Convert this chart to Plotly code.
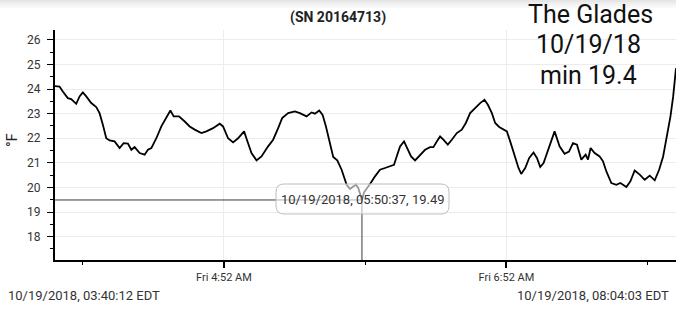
import plotly.graph_objects as go

# ---- data ----
day = "2018-10-19"
times = [
    "03:40:12", "03:42:07", "03:43:31", "03:45:39", "03:47:05", "03:49:13", "03:50:38", "03:52:02",
    "03:53:29", "03:55:36", "03:57:44", "03:59:08", "04:00:32", "04:01:59", "04:03:23", "04:05:31",
    "04:07:39", "04:09:21", "04:11:11", "04:12:38", "04:14:02", "04:16:10", "04:18:17", "04:19:41",
    "04:21:08", "04:23:16", "04:25:23", "04:27:31", "04:29:13", "04:30:38", "04:32:53", "04:35:19",
    "04:37:26", "04:39:34", "04:42:25", "04:44:32", "04:47:21", "04:50:12", "04:51:36", "04:53:44",
    "04:55:52", "04:57:59", "04:59:26", "05:00:32", "05:01:59", "05:03:41", "05:05:49", "05:07:56",
    "05:10:45", "05:12:53", "05:15:01", "05:16:43", "05:19:16", "05:22:07", "05:24:14", "05:27:05",
    "05:29:13", "05:30:38", "05:32:28", "05:33:54", "05:35:19", "05:37:01", "05:38:25", "05:40:07",
    "05:41:59", "05:44:07", "05:45:31", "05:46:55", "05:48:04", "05:49:03", "05:50:37", "05:51:30",
    "05:52:37", "05:54:20", "05:56:10", "05:58:17", "06:00:25", "06:02:32", "06:04:14", "06:05:23",
    "06:06:48", "06:08:30", "06:09:54", "06:11:29", "06:13:11", "06:15:01", "06:17:26", "06:19:34",
    "06:20:58", "06:22:25", "06:23:49", "06:25:13", "06:27:05", "06:28:48", "06:30:55", "06:33:03",
    "06:34:45", "06:36:35", "06:38:43", "06:40:50", "06:42:40", "06:44:07", "06:45:49", "06:47:13",
    "06:48:56", "06:50:46", "06:52:12", "06:54:02", "06:55:44", "06:57:08", "06:58:17", "06:59:59",
    "07:01:41", "07:03:31", "07:04:58", "07:06:22", "07:07:47", "07:09:39", "07:11:21", "07:12:28",
    "07:14:35", "07:16:43", "07:18:35", "07:20:17", "07:21:59", "07:23:49", "07:25:39", "07:26:40",
    "07:27:47", "07:29:29", "07:31:37", "07:33:03", "07:34:28", "07:36:35", "07:38:43", "07:40:25",
    "07:42:58", "07:44:40", "07:46:30", "07:48:38", "07:50:46", "07:52:53", "07:55:01", "07:56:53",
    "07:58:35", "08:00:17", "08:01:42", "08:02:51", "08:03:57", "08:04:03",
]
temps_f = [
    24.12, 24.10, 23.90, 23.63, 23.59, 23.40, 23.70, 23.86,
    23.70, 23.43, 23.27, 23.02, 22.55, 22.00, 21.91, 21.87,
    21.60, 21.80, 21.78, 21.53, 21.64, 21.40, 21.33, 21.53,
    21.60, 22.00, 22.48, 22.82, 23.13, 22.89, 22.89, 22.68,
    22.48, 22.35, 22.21, 22.28, 22.41, 22.59, 22.48, 22.00,
    21.83, 22.00, 22.14, 22.28, 21.87, 21.40, 21.10, 21.26,
    21.67, 21.94, 22.41, 22.82, 23.02, 23.09, 23.02, 22.89,
    23.05, 23.00, 23.13, 22.95, 22.48, 21.74, 21.24, 21.10,
    20.72, 20.11, 19.94, 20.04, 20.11, 19.98, 19.49, 19.80,
    19.94, 20.18, 20.45, 20.72, 20.79, 20.85, 20.92, 21.26,
    21.67, 21.87, 21.60, 21.26, 21.10, 21.29, 21.53, 21.64,
    21.64, 21.87, 22.07, 21.94, 21.74, 21.94, 22.21, 22.35,
    22.62, 23.02, 23.23, 23.43, 23.56, 23.36, 23.02, 22.62,
    22.46, 22.35, 22.28, 21.74, 21.20, 20.79, 20.55, 20.79,
    21.20, 21.42, 21.20, 20.83, 20.99, 21.53, 22.00, 22.28,
    21.67, 21.37, 21.46, 21.80, 21.74, 21.13, 21.33, 21.13,
    21.60, 21.40, 21.26, 21.06, 20.65, 20.18, 20.11, 20.18,
    20.02, 20.25, 20.69, 20.52, 20.31, 20.48, 20.29, 20.72,
    21.26, 22.07, 22.89, 23.70, 24.65, 24.85,
]
tip_time = "05:50:37"
tip_value = 19.49
x_start = "03:40:12"
x_end = "08:04:03"
chart_title = "(SN 20164713)"
note_lines = ["The Glades", "10/19/18", "min 19.4"]
start_label = "10/19/2018, 03:40:12 EDT"
end_label = "10/19/2018, 08:04:03 EDT"
tip_label = "10/19/2018, 05:50:37, 19.49"

# ---- figure ----
W, H = 676, 309
ML, MR, MT, MB = 55, 0, 30, 49
PW, PH = W - ML - MR, H - MT - MB
FONT = "Roboto, 'Noto Sans', sans-serif"
Y0, Y1 = 17.05, 26.4

def px_to_paper(px, py):
    return (px - ML) / PW, (H - MB - py) / PH

xs = [f"{day} {t}" for t in times]

fig = go.Figure()
fig.add_trace(go.Scatter(x=xs, y=temps_f, mode="lines",
                         line=dict(color="#000000", width=1.8), hoverinfo="skip"))

# crosshair lines (data coords)
tx = f"{day} {tip_time}"
fig.add_shape(type="line", xref="x", yref="y", x0=f"{day} {x_start}", x1=tx,
              y0=tip_value, y1=tip_value, line=dict(color="#3a3a3a", width=1), layer="above")
fig.add_shape(type="line", xref="x", yref="paper", x0=tx, x1=tx, y0=0,
              y1=(tip_value - Y0) / (Y1 - Y0), line=dict(color="#3a3a3a", width=1), layer="above")

# rounded tooltip box (pixel geometry converted to paper)
bl, br, bt, bb, r = 276, 449, 184, 214, 8
def P(px, py):
    a, b = px_to_paper(px, py)
    return f"{a:.5f},{b:.5f}"
path = (f"M {P(bl + r, bt)} L {P(br - r, bt)} Q {P(br, bt)} {P(br, bt + r)} "
        f"L {P(br, bb - r)} Q {P(br, bb)} {P(br - r, bb)} L {P(bl + r, bb)} "
        f"Q {P(bl, bb)} {P(bl, bb - r)} L {P(bl, bt + r)} Q {P(bl, bt)} {P(bl + r, bt)} Z")
fig.add_shape(type="path", xref="paper", yref="paper", path=path,
              fillcolor="rgba(255,255,255,0.6)", line=dict(color="#bdbdbd", width=1), layer="above")

# top shadow band
for i, c in enumerate(["#e6e6e6", "#eeeeee", "#f4f4f4", "#f9f9f9"]):
    y0 = 1 + (MT - i * 2) / PH
    fig.add_shape(type="rect", xref="paper", yref="paper", x0=-ML / PW, x1=1,
                  y0=y0 - 2 / PH, y1=y0, fillcolor=c, line=dict(width=0), layer="below")

ann = []
ax, ay = px_to_paper(362.5, 199)
ann.append(dict(x=ax, y=ay, xref="paper", yref="paper", text=tip_label, showarrow=False,
                font=dict(family=FONT, size=13, color="#333333"), xanchor="center", yanchor="middle"))
tx_, ty_ = px_to_paper(338, 17)
ann.append(dict(x=tx_, y=ty_, xref="paper", yref="paper", text=f"<b>{chart_title}</b>", showarrow=False,
                font=dict(family=FONT, size=14, color="#222222"), xanchor="center", yanchor="middle"))
for (cx, cy), line in zip([(590, 15), (588, 44), (588, 75)], note_lines):
    a, b = px_to_paper(cx, cy)
    ann.append(dict(x=a, y=b, xref="paper", yref="paper", text=line, showarrow=False,
                    font=dict(family=FONT, size=25, color="#111111"), xanchor="center", yanchor="middle"))
a, b = px_to_paper(6, 295)
ann.append(dict(x=a, y=b, xref="paper", yref="paper", text=start_label, showarrow=False,
                font=dict(family=FONT, size=13, color="#333333"), xanchor="left", yanchor="middle"))
a, b = px_to_paper(671, 295)
ann.append(dict(x=a, y=b, xref="paper", yref="paper", text=end_label, showarrow=False,
                font=dict(family=FONT, size=13, color="#333333"), xanchor="right", yanchor="middle"))
a, b = px_to_paper(12, 140)
ann.append(dict(x=a, y=b, xref="paper", yref="paper", text="°F", showarrow=False, textangle=-90,
                font=dict(family=FONT, size=15, color="#222222"), xanchor="center", yanchor="middle"))

fig.update_layout(
    width=W, height=H, margin=dict(l=ML, r=MR, t=MT, b=MB),
    paper_bgcolor="white", plot_bgcolor="white", showlegend=False,
    annotations=ann,
    xaxis=dict(range=[f"{day} {x_start}", f"{day} {x_end}"], type="date",
               tick0=f"{day} 04:52:00", dtick=7200000, tickformat="%a %-I:%M %p",
               ticks="outside", ticklen=6, tickwidth=2, tickcolor="#000",
               showline=True, linecolor="#000", linewidth=2,
               showgrid=True, gridcolor="#ececec", gridwidth=1, zeroline=False,
               tickfont=dict(family=FONT, size=11, color="#333333"),
               minor=dict(tick0=f"{day} 03:52:00", dtick=3600000, ticks="outside",
                          ticklen=3, tickwidth=1, tickcolor="#000", showgrid=False)),
    yaxis=dict(range=[Y0, Y1], tick0=18, dtick=1,
               ticks="outside", ticklen=6, tickwidth=1, tickcolor="#000",
               showline=True, linecolor="#000", linewidth=2,
               showgrid=True, gridcolor="#ececec", gridwidth=1, zeroline=False,
               tickfont=dict(family=FONT, size=12, color="#333333"), ticklabelstandoff=4,
               minor=dict(dtick=0.5, ticks="outside", ticklen=3, tickwidth=1,
                          tickcolor="#000", showgrid=False)),
)

fig.write_html("out.html")
